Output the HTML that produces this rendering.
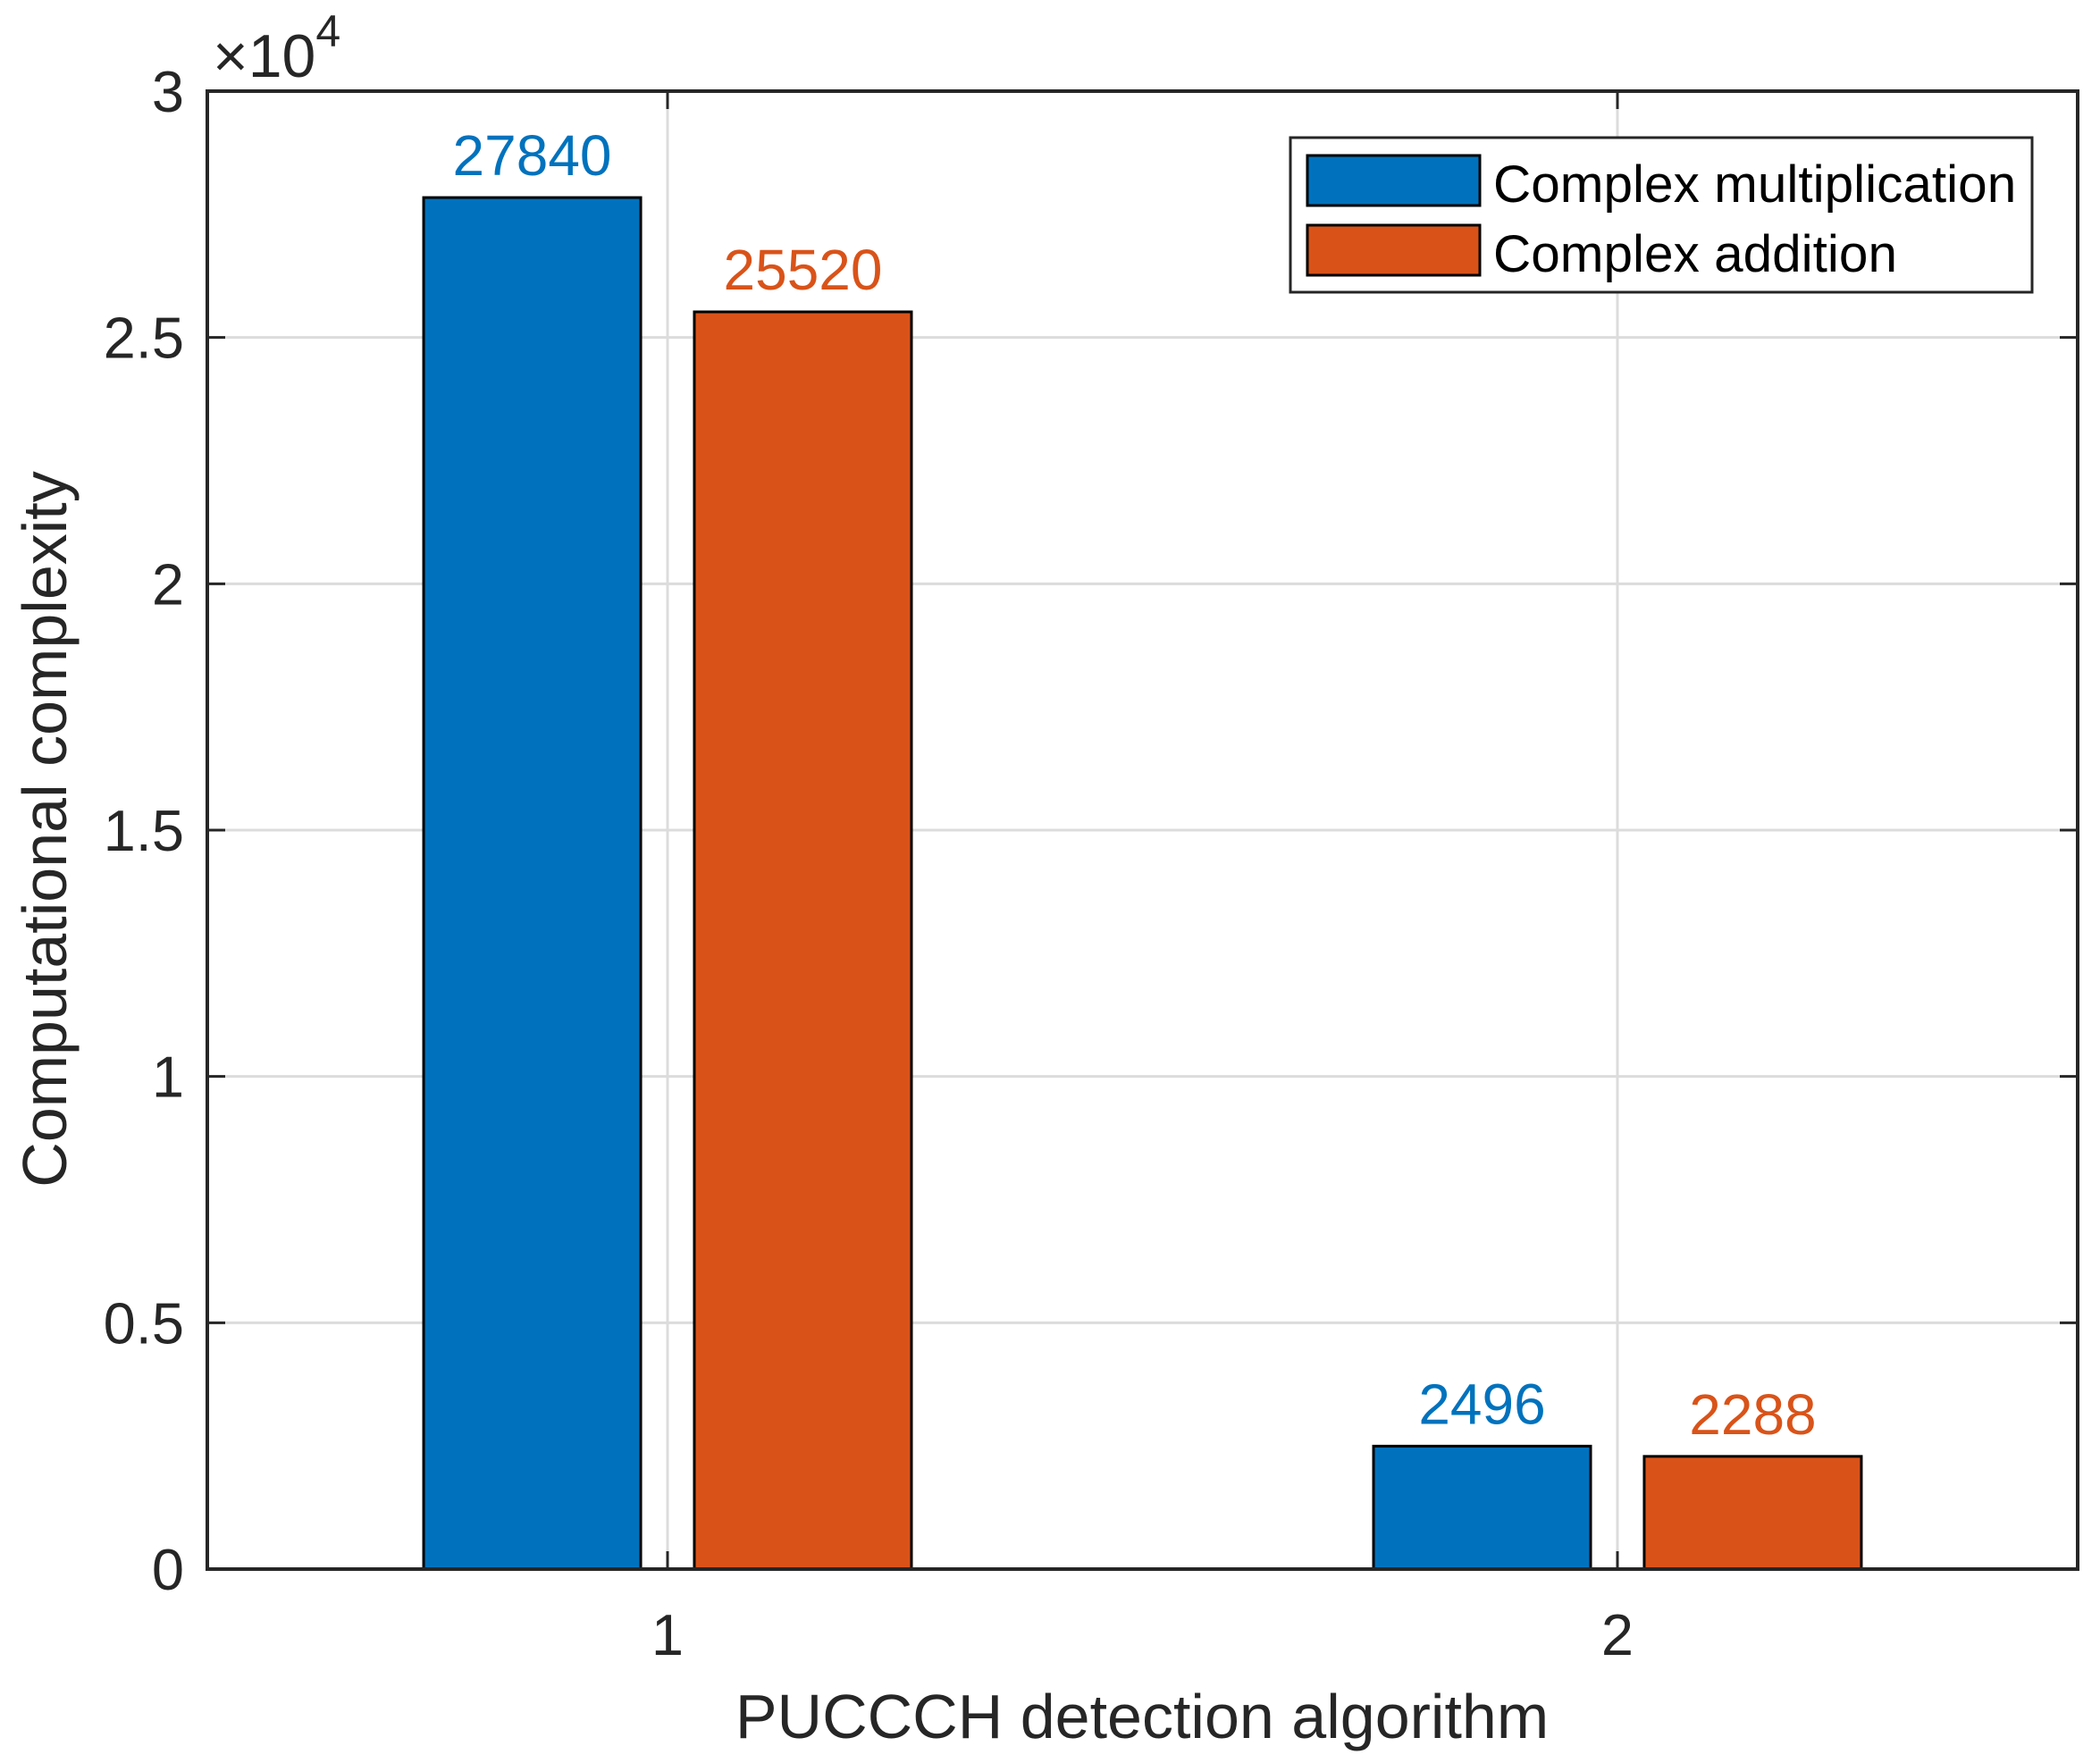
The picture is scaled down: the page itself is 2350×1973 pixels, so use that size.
<!DOCTYPE html>
<html><head><meta charset="utf-8"><style>
html,body{margin:0;padding:0;background:#fff}
svg{display:block}
text{font-family:"Liberation Sans",Arial,sans-serif}
</style></head><body>
<svg id="chart" width="2350" height="1973" viewBox="0 0 2350 1973" xmlns="http://www.w3.org/2000/svg">
<rect x="0" y="0" width="2350" height="1973" fill="#fff"/>
<g id="grid"></g>
<g id="bars"></g>
<g id="axes"></g>
<text x="238" y="86" font-size="68" fill="#262626">×10<tspan dy="-34" font-size="50">4</tspan></text>
<text x="1278" y="1945" font-size="70" text-anchor="middle" fill="#262626">PUCCCH detection algorithm</text>
<text transform="translate(74,928) rotate(-90)" font-size="70" text-anchor="middle" fill="#262626">Computational complexity</text>
<g>
<rect x="1444" y="154" width="830" height="173" fill="#fff" stroke="#262626" stroke-width="3"/>
<rect x="1463" y="174" width="193" height="56" fill="#0072BD" stroke="#000" stroke-width="3"/>
<text x="1671" y="226" font-size="58.5" fill="#000">Complex multiplication</text>
<rect x="1463" y="252" width="193" height="56" fill="#D95319" stroke="#000" stroke-width="3"/>
<text x="1671" y="304" font-size="58.5" fill="#000">Complex addition</text>
</g>
</svg>
<script>
const categories = [1, 2];
const seriesNames = ["Complex multiplication", "Complex addition"];
const multValues = [27840, 2496];
const addValues = [25520, 2288];
const yTicks = [0, 5000, 10000, 15000, 20000, 25000, 30000];
const yTickLabels = ["0", "0.5", "1", "1.5", "2", "2.5", "3"];
const xTickLabels = ["1", "2"];

const NS = "http://www.w3.org/2000/svg";
const L = 232, R = 2325, T = 102, B = 1756;
const xMin = 0.5155, xMax = 2.4845, yMin = 0, yMax = 30000;
function xs(v){ return L + (v - xMin) / (xMax - xMin) * (R - L); }
function ys(v){ return B - (v - yMin) / (yMax - yMin) * (B - T); }
function mk(tag, attrs, parent){
  const e = document.createElementNS(NS, tag);
  for (const k in attrs) e.setAttribute(k, attrs[k]);
  parent.appendChild(e);
  return e;
}
const grid = document.getElementById('grid');
const bars = document.getElementById('bars');
const axes = document.getElementById('axes');

yTicks.forEach((t, i) => {
  const y = ys(t);
  const g = mk('line', {x1: L, x2: R, y1: y, y2: y, stroke: '#dcdcdc', 'stroke-width': 3}, grid);
  
  
  const tk = mk('line', {x1: L, x2: L + 20, y1: y, y2: y, stroke: '#262626', 'stroke-width': 3}, axes);
  
  
  const tk2 = mk('line', {x1: R, x2: R - 20, y1: y, y2: y, stroke: '#262626', 'stroke-width': 3}, axes);
  
  
  const lb = mk('text', {x: L - 26, y: y + 23, 'font-size': 65, 'text-anchor': 'end', fill: '#262626'}, axes);
  lb.textContent = yTickLabels[i];
  
  
});
categories.forEach((c, i) => {
  const x = xs(c);
  const g = mk('line', {x1: x, x2: x, y1: T, y2: B, stroke: '#dcdcdc', 'stroke-width': 3}, grid);
  
  
  const tk = mk('line', {x1: x, x2: x, y1: B, y2: B - 20, stroke: '#262626', 'stroke-width': 3}, axes);
  
  
  const tk2 = mk('line', {x1: x, x2: x, y1: T, y2: T + 20, stroke: '#262626', 'stroke-width': 3}, axes);
  
  
  const lb = mk('text', {x: x, y: 1852, 'font-size': 65, 'text-anchor': 'middle', fill: '#262626'}, axes);
  lb.textContent = xTickLabels[i];
  
  
});
const frame = mk('rect', {x: L, y: T, width: R - L, height: B - T, fill: 'none', stroke: '#262626', 'stroke-width': 4}, axes);



const barW = 0.2286, offs = [-0.1425, 0.1425];
const colors = ['#0072BD', '#D95319'];
const series = [multValues, addValues];
series.forEach((vals, s) => {
  vals.forEach((v, i) => {
    const cx = categories[i] + offs[s];
    const x0 = xs(cx - barW / 2), x1 = xs(cx + barW / 2);
    const y = ys(v);
    const r = mk('rect', {x: x0, y: y, width: x1 - x0, height: ys(0) - y, fill: colors[s], stroke: '#000', 'stroke-width': 3}, bars);
    
    
    const t = mk('text', {x: (x0 + x1) / 2, y: y - 25, 'font-size': 64, 'text-anchor': 'middle', fill: colors[s]}, bars);
    t.textContent = String(v);
    
    
  });
});
</script>
</body></html>
